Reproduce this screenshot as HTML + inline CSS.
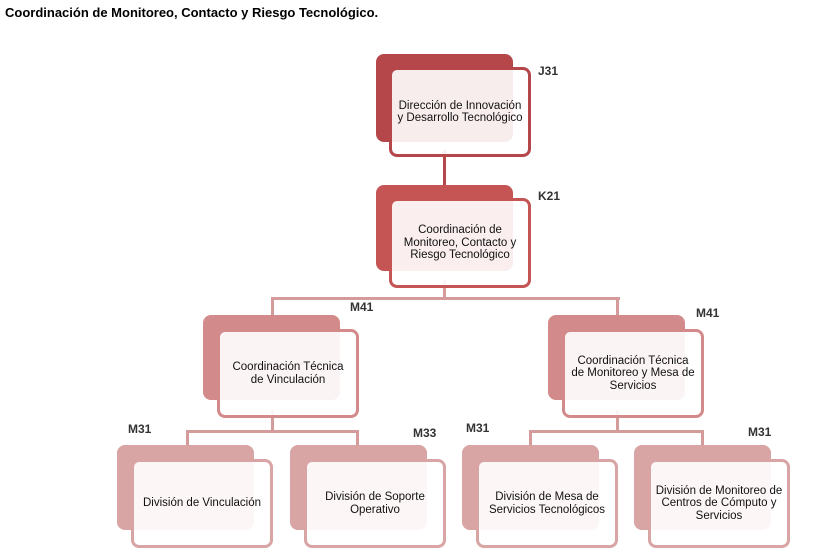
<!DOCTYPE html>
<html><head><meta charset="utf-8"><style>
body{margin:0;width:824px;height:558px;background:#fff;position:relative;overflow:hidden;font-family:"Liberation Sans",sans-serif}
.t{position:absolute;left:5px;top:5px;font-size:13px;font-weight:bold;color:#000}
.b{position:absolute;border-radius:8px}
.f{position:absolute;border-radius:8px;background:rgba(255,255,255,0.9);border:3px solid;box-sizing:border-box;display:flex;align-items:center;justify-content:center;text-align:center;font-size:11.5px;line-height:12.5px;color:#111;padding:0;white-space:nowrap}
.l{position:absolute}
.c{position:absolute;font-size:12px;font-weight:bold;color:#333}
</style></head><body>
<div class="t">Coordinación de Monitoreo, Contacto y Riesgo Tecnológico.</div>

<div class="l" style="left:443px;top:150px;width:3px;height:40px;background:#b5474a"></div>
<div class="l" style="left:443px;top:280px;width:3px;height:20px;background:#d59a9a"></div>
<div class="l" style="left:271px;top:297px;width:349px;height:3px;background:#d59a9a"></div>
<div class="l" style="left:271px;top:297px;width:3px;height:18px;background:#d59a9a"></div>
<div class="l" style="left:616px;top:297px;width:3px;height:18px;background:#d59a9a"></div>

<div class="l" style="left:271px;top:410px;width:3px;height:22px;background:#d59a9a"></div>
<div class="l" style="left:186px;top:430px;width:173px;height:3px;background:#d59a9a"></div>
<div class="l" style="left:186px;top:430px;width:3px;height:15px;background:#d59a9a"></div>
<div class="l" style="left:356px;top:430px;width:3px;height:15px;background:#d59a9a"></div>

<div class="l" style="left:616px;top:410px;width:3px;height:22px;background:#d59a9a"></div>
<div class="l" style="left:529px;top:430px;width:175px;height:3px;background:#d59a9a"></div>
<div class="l" style="left:529px;top:430px;width:3px;height:15px;background:#d59a9a"></div>
<div class="l" style="left:701px;top:430px;width:3px;height:15px;background:#d59a9a"></div>

<div class="b" style="left:376px;top:54px;width:137px;height:88px;background:#b5474a"></div>
<div class="f" style="left:389px;top:67px;width:142px;height:90px;border-color:#b5474a">Dirección de Innovación<br>y Desarrollo Tecnológico</div>
<div class="c" style="left:538px;top:64px">J31</div>

<div class="b" style="left:376px;top:185px;width:137px;height:86px;background:#c55454"></div>
<div class="f" style="left:389px;top:198px;width:142px;height:90px;border-color:#c55454">Coordinación de<br>Monitoreo, Contacto y<br>Riesgo Tecnológico</div>
<div class="c" style="left:538px;top:189px">K21</div>

<div class="b" style="left:203px;top:315px;width:137px;height:85px;background:#d28a8a"></div>
<div class="f" style="left:217px;top:329px;width:142px;height:89px;border-color:#d28a8a">Coordinación Técnica<br>de Vinculación</div>
<div class="c" style="left:350px;top:300px">M41</div>

<div class="b" style="left:548px;top:315px;width:137px;height:85px;background:#d28a8a"></div>
<div class="f" style="left:562px;top:329px;width:142px;height:89px;border-color:#d28a8a">Coordinación Técnica<br>de Monitoreo y Mesa de<br>Servicios</div>
<div class="c" style="left:696px;top:306px">M41</div>

<div class="b" style="left:117px;top:445px;width:137px;height:85px;background:#d9a4a4"></div>
<div class="f" style="left:131px;top:459px;width:142px;height:89px;border-color:#d9a4a4">División de Vinculación</div>
<div class="c" style="left:128px;top:422px">M31</div>

<div class="b" style="left:290px;top:445px;width:137px;height:85px;background:#d9a4a4"></div>
<div class="f" style="left:304px;top:459px;width:142px;height:89px;border-color:#d9a4a4">División de Soporte<br>Operativo</div>
<div class="c" style="left:413px;top:426px">M33</div>

<div class="b" style="left:462px;top:445px;width:137px;height:85px;background:#d9a4a4"></div>
<div class="f" style="left:476px;top:459px;width:142px;height:89px;border-color:#d9a4a4">División de Mesa de<br>Servicios Tecnológicos</div>
<div class="c" style="left:466px;top:421px">M31</div>

<div class="b" style="left:634px;top:445px;width:137px;height:85px;background:#d9a4a4"></div>
<div class="f" style="left:648px;top:459px;width:142px;height:89px;border-color:#d9a4a4">División de Monitoreo de<br>Centros de Cómputo y<br>Servicios</div>
<div class="c" style="left:748px;top:425px">M31</div>
</body></html>
